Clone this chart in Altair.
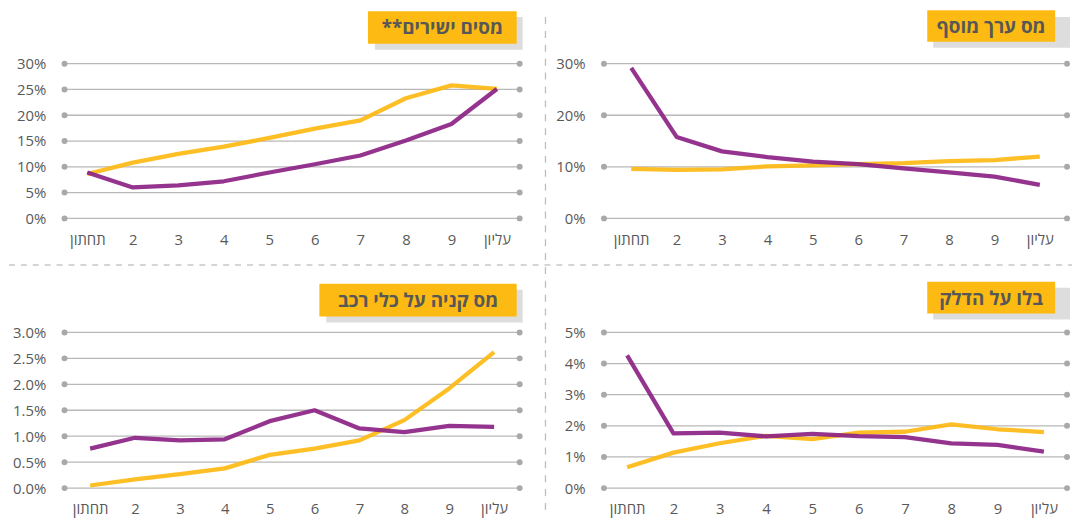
import altair as alt
import pandas as pd

FONT = "Open Sans, DejaVu Sans, sans-serif"
YELLOW = "#FDBA12"
PURPLE = "#8C2384"
GRID = "#b8b8b8"
DOT = "#a9a9a9"
TXT = "#595959"

CATS = ["תחתון", "2", "3", "4", "5", "6", "7", "8", "9", "עליון"]
TITLES = ["**מסים ישירים", "מס ערך מוסף", "מס קניה על כלי רכב", "בלו על הדלק"]

# top-left: direct taxes
tl_yellow = [8.6, 10.8, 12.5, 13.9, 15.6, 17.4, 19.0, 23.3, 25.8, 25.1]
tl_purple = [8.9, 6.0, 6.4, 7.2, 8.9, 10.5, 12.2, 15.1, 18.3, 25.1]
tl_ticks = [0, 5, 10, 15, 20, 25, 30]

# top-right: VAT
tr_yellow = [9.6, 9.4, 9.5, 10.1, 10.3, 10.5, 10.7, 11.1, 11.3, 12.0]
tr_purple = [29.2, 15.8, 13.0, 11.9, 11.0, 10.5, 9.7, 8.9, 8.1, 6.5]
tr_ticks = [0, 10, 20, 30]

# bottom-left: car purchase tax
bl_yellow = [0.05, 0.17, 0.27, 0.38, 0.64, 0.76, 0.92, 1.31, 1.92, 2.62]
bl_purple = [0.76, 0.97, 0.92, 0.94, 1.29, 1.50, 1.15, 1.08, 1.20, 1.18]
bl_ticks = [0, 0.5, 1.0, 1.5, 2.0, 2.5, 3.0]

# bottom-right: fuel excise
br_yellow = [0.67, 1.14, 1.44, 1.68, 1.57, 1.78, 1.81, 2.05, 1.89, 1.80]
br_purple = [4.26, 1.76, 1.78, 1.66, 1.74, 1.67, 1.64, 1.44, 1.39, 1.17]
br_ticks = [0, 1, 2, 3, 4, 5]

ONE = pd.DataFrame({"k": [0]})


def panel(title, yellow, purple, ticks, decimals, W, H, pad, box, shadow, extras):
    lo, hi = ticks[0], ticks[-1]
    yscale = alt.Scale(domain=[lo, hi], nice=False, zero=False)
    xscale = alt.Scale(type="point", padding=pad)
    yax = alt.Axis(
        values=ticks, labelExpr=f"format(datum.value, '.{decimals}f') + '%'",
        domain=False, ticks=False, grid=False, labelPadding=19, title=None,
        labelFontSize=15, labelColor=TXT, labelFont=FONT,
    )
    xax = alt.Axis(
        domain=False, ticks=False, grid=False, labelPadding=14, title=None,
        labelAngle=0, labelFontSize=15, labelColor=TXT, labelFont=FONT,
    )
    tick_df = pd.DataFrame({"val": ticks})

    grid = alt.Chart(tick_df).mark_rule(color=GRID, strokeWidth=1.3).encode(
        y=alt.Y("val:Q", scale=yscale, axis=yax), x=alt.value(0), x2=alt.value(W)
    )
    dots_l = alt.Chart(tick_df).mark_point(filled=True, color=DOT, size=36, opacity=1).encode(
        y=alt.Y("val:Q", scale=yscale, axis=yax), x=alt.value(0)
    )
    dots_r = alt.Chart(tick_df).mark_point(filled=True, color=DOT, size=36, opacity=1).encode(
        y=alt.Y("val:Q", scale=yscale, axis=yax), x=alt.value(W)
    )

    def line(vals, color):
        df = pd.DataFrame({"cat": CATS, "val": vals})
        return alt.Chart(df).mark_line(
            color=color, strokeWidth=4.3, opacity=0.92, strokeJoin="round"
        ).encode(
            x=alt.X("cat:N", sort=CATS, scale=xscale, axis=xax),
            y=alt.Y("val:Q", scale=yscale, axis=yax),
        )

    bx0, bx1, by0, by1 = box
    sx0, sx1, sy0, sy1 = shadow
    shadow_rect = alt.Chart(ONE).mark_rect(color="#dddddd").encode(
        x=alt.value(sx0), x2=alt.value(sx1), y=alt.value(sy0), y2=alt.value(sy1)
    )
    box_rect = alt.Chart(ONE).mark_rect(color=YELLOW).encode(
        x=alt.value(bx0), x2=alt.value(bx1), y=alt.value(by0), y2=alt.value(by1)
    )
    label = alt.Chart(ONE).mark_text(
        align="center", baseline="middle", fontSize=19, fontWeight="bold",
        color="#575757", font=FONT,
    ).encode(x=alt.value((bx0 + bx1) / 2), y=alt.value((by0 + by1) / 2 + 1), text=alt.value(title))

    layers = [grid, dots_l, dots_r, line(yellow, YELLOW), line(purple, PURPLE),
              shadow_rect, box_rect, label] + extras
    return alt.layer(*layers).properties(width=W, height=H)


hsep = alt.Chart(ONE).mark_rule(color="#c8c8c8", strokeWidth=1.3, strokeDash=[6, 6]).encode(
    x=alt.value(-56), x2=alt.value(1016), y=alt.value(-68)
)
vsep = alt.Chart(ONE).mark_rule(color="#bdbdbd", strokeWidth=1.3, strokeDash=[7, 7]).encode(
    x=alt.value(-59), y=alt.value(-318), y2=alt.value(184)
)

tl = panel(TITLES[0], tl_yellow, tl_purple, tl_ticks, 0, 459, 156, 0.5,
           (306, 456, -53, -20), (313, 462, -47, -14), [])
tr = panel(TITLES[1], tr_yellow, tr_purple, tr_ticks, 0, 467, 156, 0.6,
           (326, 455, -54, -22), (332, 470, -47, -16), [])
bl = panel(TITLES[2], bl_yellow, bl_purple, bl_ticks, 1, 459, 157, 0.57,
           (257, 456, -49, -16), (264, 462, -43, -10), [hsep])
br = panel(TITLES[3], br_yellow, br_purple, br_ticks, 0, 467, 157, 0.5,
           (326, 455, -51, -19), (332, 470, -45, -13), [vsep])

chart = alt.concat(
    tl, tr, bl, br, columns=2, spacing={"row": 115, "column": 85}, bounds="flush"
).properties(padding=0, background="white").configure_view(stroke=None)

chart.save("out.html", embed_options={"renderer": "svg", "actions": False})
